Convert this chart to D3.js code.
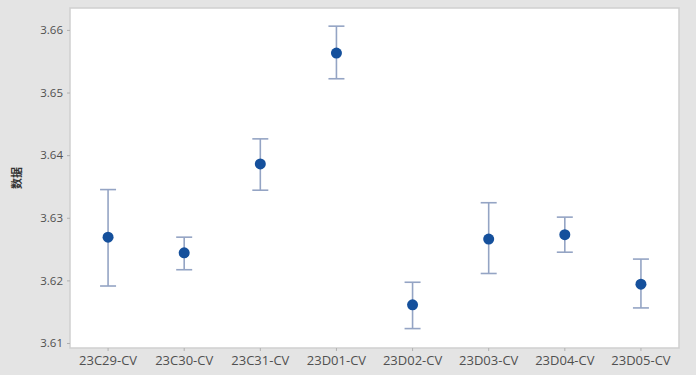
<!DOCTYPE html>
<html>
<head>
<meta charset="utf-8">
<script src="https://cdn.jsdelivr.net/npm/d3@7"></script>
<style>
  html, body { margin: 0; padding: 0; background: #e4e4e4; }
  svg { display: block; }
</style>
</head>
<body>
<svg id="chart"></svg>
<script>
const WIDTH = 696;
const HEIGHT = 375;
const MARGIN = { top: 8, right: 17, bottom: 27, left: 70 };

// interval plot data (mean with CI)
const categories = ["23C29-CV", "23C30-CV", "23C31-CV", "23D01-CV", "23D02-CV", "23D03-CV", "23D04-CV", "23D05-CV"];
const means = [3.6269, 3.6244, 3.6386, 3.6563, 3.6161, 3.6266, 3.6273, 3.6194];
const upper = [3.6345, 3.6269, 3.6426, 3.6606, 3.6197, 3.6324, 3.6301, 3.6234];
const lower = [3.6191, 3.6217, 3.6344, 3.6522, 3.6123, 3.6211, 3.6245, 3.6156];
const yTicks = [3.61, 3.62, 3.63, 3.64, 3.65, 3.66];
const yLabel = "数据";

const rows = categories.map((c, i) => ({ cat: c, mean: means[i], hi: upper[i], lo: lower[i] }));

const $svg = d3.select("#chart").attr("width", WIDTH).attr("height", HEIGHT);

const plotW = WIDTH - MARGIN.left - MARGIN.right;
const plotH = HEIGHT - MARGIN.top - MARGIN.bottom;

const xScale = d3.scaleBand().domain(categories).range([0, plotW]).padding(0);
const yScale = d3.scaleLinear().domain([3.6092, 3.6635]).range([plotH, 0]);

const g = $svg.append("g").attr("transform", `translate(${MARGIN.left},${MARGIN.top})`);

// plot area
g.append("rect")
  .attr("x", 0).attr("y", 0)
  .attr("width", plotW).attr("height", plotH)
  .attr("fill", "#ffffff")
  .attr("stroke", "#cfcfcf")
  .attr("stroke-width", 1.5);

// axes
const yAxis = d3.axisLeft(yScale).tickValues(yTicks).tickFormat(d3.format(".2f")).tickSize(3).tickPadding(4);
const yG = g.append("g").call(yAxis);
yG.select(".domain").remove();
yG.selectAll("line").attr("stroke", "#b0b0b0");
yG.selectAll("text").attr("fill", "#505050").attr("font-size", 11.5).attr("font-family", "'Open Sans', sans-serif");

const xAxis = d3.axisBottom(xScale).tickSize(3).tickPadding(5);
const xG = g.append("g").attr("transform", `translate(0,${plotH})`).call(xAxis);
xG.select(".domain").remove();
xG.selectAll("line").attr("stroke", "#b0b0b0");
xG.selectAll("text").attr("fill", "#505050").attr("font-size", 13).attr("font-family", "'Open Sans', sans-serif");

// y label
$svg.append("text")
  .attr("transform", `translate(21,${MARGIN.top + plotH / 2}) rotate(-90)`)
  .attr("text-anchor", "middle")
  .attr("font-size", 11)
  .attr("font-weight", "bold")
  .attr("fill", "#333")
  .attr("font-family", "'Noto Sans CJK SC', sans-serif")
  .text(yLabel);

// error bars
const cx = d => xScale(d.cat) + xScale.bandwidth() / 2;
const CAP = 8;
const bars = g.selectAll(".bar").data(rows).enter().append("g").attr("class", "bar")
  .attr("stroke", "#94a4c4").attr("stroke-width", 1.6);

bars.append("line")
  .attr("x1", cx).attr("x2", cx)
  .attr("y1", d => yScale(d.hi)).attr("y2", d => yScale(d.lo));
bars.append("line")
  .attr("x1", d => cx(d) - CAP).attr("x2", d => cx(d) + CAP)
  .attr("y1", d => yScale(d.hi)).attr("y2", d => yScale(d.hi));
bars.append("line")
  .attr("x1", d => cx(d) - CAP).attr("x2", d => cx(d) + CAP)
  .attr("y1", d => yScale(d.lo)).attr("y2", d => yScale(d.lo));

// mean points
g.selectAll(".pt").data(rows).enter().append("circle")
  .attr("class", "pt")
  .attr("cx", cx)
  .attr("cy", d => yScale(d.mean))
  .attr("r", 5.5)
  .attr("fill", "#15509c");
</script>
</body>
</html>
